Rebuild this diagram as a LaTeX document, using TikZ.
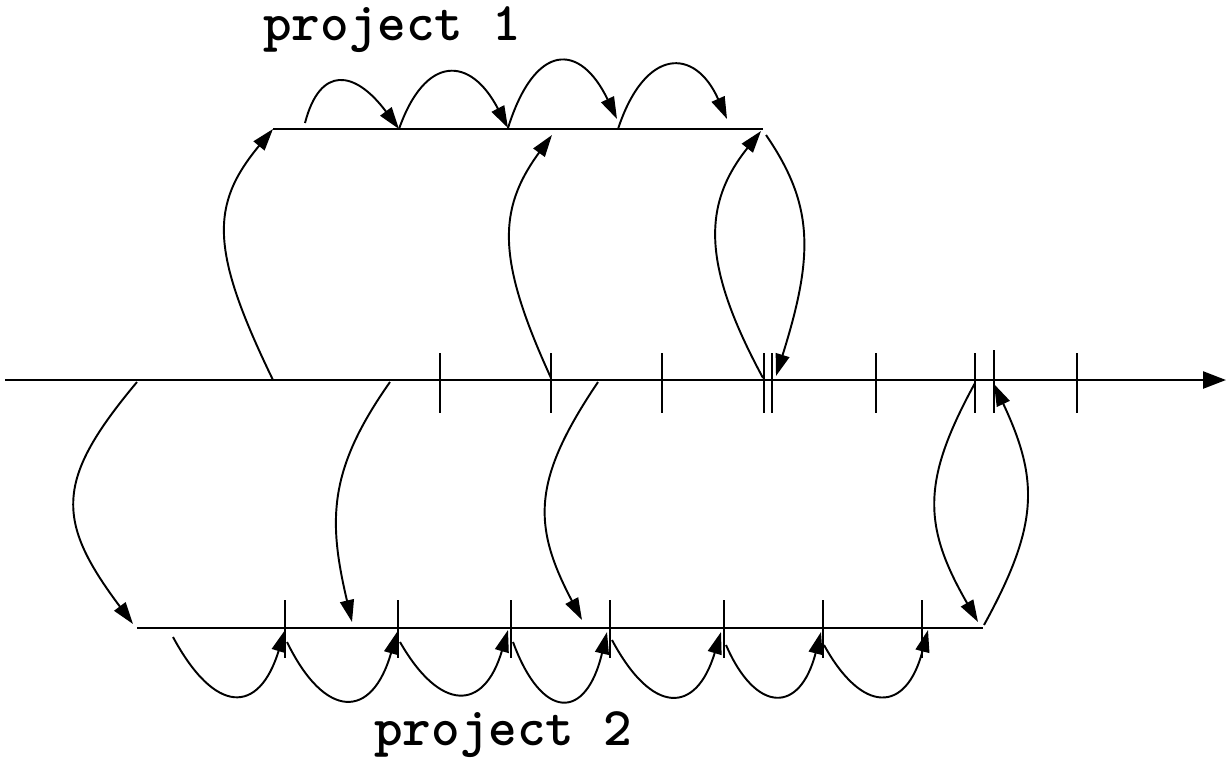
\documentclass[tikz,border=0pt]{standalone}
\usepackage{fontspec}
\usetikzlibrary{arrows.meta}

\begin{document}
\begin{tikzpicture}[x=0.02cm, y=-0.02cm,
    axisline/.style={line width=1.4pt, black},
    tickmark/.style={line width=1.1pt, black},
    arr/.style={-{Triangle[length=0.44cm, width=0.28cm]}, line width=1.1pt, black},
    lbl/.style={font=\ttfamily\bfseries\fontsize{31}{34}\selectfont, inner sep=0pt, anchor=base west}]

    \useasboundingbox (0,0) rectangle (1226,758);

    % time axis
    \coordinate (t0) at (5,380);
    \coordinate (t1) at (1226,380);
    \draw[axisline, -{Triangle[length=0.46cm, width=0.34cm]}] (t0) -- (t1);
    \draw[tickmark] (440,353) -- (440,413);  \draw[tickmark] (551,353) -- (551,413);
    \draw[tickmark] (662,353) -- (662,413);  \draw[tickmark] (764,353) -- (764,413);
    \draw[tickmark] (772,353) -- (772,413);  \draw[tickmark] (876,353) -- (876,413);
    \draw[tickmark] (975,353) -- (975,413);  \draw[tickmark] (994,350) -- (994,413);
    \draw[tickmark] (1077,353) -- (1077,413);

    % project 1
    \coordinate (p1s) at (273,129);
    \coordinate (p1e) at (763,129);
    \draw[axisline] (p1s) -- (p1e);
    \node[lbl] (lbl1) at (263,40) {project 1};

    % project 2
    \coordinate (p2s) at (137,628);
    \coordinate (p2e) at (983,628);
    \draw[axisline] (p2s) -- (p2e);
    \draw[tickmark] (285,600) -- (285,658);  \draw[tickmark] (398,600) -- (398,658);
    \draw[tickmark] (511,600) -- (511,658);  \draw[tickmark] (610,600) -- (610,658);
    \draw[tickmark] (724,600) -- (724,658);  \draw[tickmark] (823,600) -- (823,658);
    \draw[tickmark] (922,600) -- (922,658);
    \node[lbl] (lbl2) at (374,745) {project 2};

    % switches between axis and project 1
    \coordinate (ma) at (273,380);
    \coordinate (mb) at (551,378);  \coordinate (pb) at (552,135);
    \coordinate (mc) at (763,378);  \coordinate (pc) at (761,131);
    \coordinate (pd) at (766,135);  \coordinate (md) at (776,376);
    \draw[arr] (ma) .. controls (210,250) and (210,205) .. (p1s);
    \draw[arr] (mb) .. controls (497,260) and (497,210) .. (pb);
    \draw[arr] (mc) .. controls (702,265) and (702,205) .. (pc);
    \draw[arr] (pd) .. controls (814,205) and (814,255) .. (md);

    % switches between axis and project 2
    \coordinate (me) at (137,382);  \coordinate (qe) at (133,624);
    \coordinate (mf) at (390,382);  \coordinate (qf) at (352,622);
    \coordinate (mg) at (598,382);  \coordinate (qg) at (582,620);
    \coordinate (mh) at (975,383);  \coordinate (qh) at (978,622);
    \coordinate (qi) at (984,625);  \coordinate (mi) at (994,384);
    \draw[arr] (me) .. controls (55,480) and (55,520) .. (qe);
    \draw[arr] (mf) .. controls (328,470) and (328,520) .. (qf);
    \draw[arr] (mg) .. controls (532,480) and (532,525) .. (qg);
    \draw[arr] (mh) .. controls (922,480) and (922,525) .. (qh);
    \draw[arr] (qi) .. controls (1039,525) and (1039,480) .. (mi);

    % steps of project 1
    \coordinate (a0) at (305,123);  \coordinate (a1) at (399,129);
    \coordinate (a2) at (508,128);  \coordinate (a3) at (617,119);
    \coordinate (a3s) at (618,129); \coordinate (a4) at (727,119);
    \draw[arr] (a0) .. controls (320,65) and (355,70) .. (a1);
    \draw[arr] (a1) .. controls (425,55) and (470,55) .. (a2);
    \draw[arr] (a2) .. controls (535,42) and (580,42) .. (a3);
    \draw[arr] (a3s) .. controls (645,47) and (695,47) .. (a4);

    % steps of project 2
    \coordinate (b0) at (173,637);  \coordinate (b1) at (285,630);
    \coordinate (b1s) at (287,642); \coordinate (b2) at (397,632);
    \coordinate (b2s) at (400,642); \coordinate (b3) at (508,630);
    \coordinate (b3s) at (513,642); \coordinate (b4) at (607,632);
    \coordinate (b4s) at (612,640); \coordinate (b5) at (721,632);
    \coordinate (b5s) at (726,645); \coordinate (b6) at (821,632);
    \coordinate (b6s) at (824,645); \coordinate (b7) at (928,630);
    \draw[arr] (b0) .. controls (215,715) and (259,715) .. (b1);
    \draw[arr] (b1s) .. controls (325,720) and (372,720) .. (b2);
    \draw[arr] (b2s) .. controls (440,712) and (484,712) .. (b3);
    \draw[arr] (b3s) .. controls (542,721) and (586,721) .. (b4);
    \draw[arr] (b4s) .. controls (652,715) and (696,715) .. (b5);
    \draw[arr] (b5s) .. controls (756,714) and (800,714) .. (b6);
    \draw[arr] (b6s) .. controls (862,714) and (906,714) .. (b7);
\end{tikzpicture}
\end{document}
